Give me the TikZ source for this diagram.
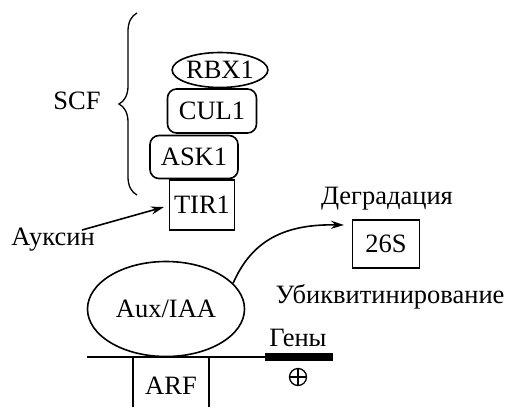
\documentclass[tikz,border=0pt]{standalone}
\usepackage{fontspec}
\setmainfont{Liberation Serif}
\usetikzlibrary{arrows.meta,decorations.pathreplacing,shapes.geometric}
\begin{document}
\begin{tikzpicture}[x=1pt,y=-1pt,line width=1.6pt,
  every node/.style={font=\fontsize{26.5}{30}\selectfont,inner sep=0pt},
  rbox/.style={draw,rounded corners=9pt,minimum width=88pt,minimum height=43pt},
  sbox/.style={draw,minimum width=65pt,minimum height=50pt},
  oval/.style={draw,ellipse},
  arr/.style={-{Stealth[length=13pt,width=8pt]}}]
\useasboundingbox (0,0) rectangle (505,407);
\node[oval,minimum width=86pt,minimum height=35pt] (rbx) at (220,70) {RBX1};
\node[rbox,minimum width=89pt,minimum height=44pt] (cul) at (212,111) {CUL1};
\node[rbox] (ask) at (194,157) {ASK1};
\node[sbox] (tir) at (202,205) {TIR1};
\draw[line width=1.3pt,decorate,decoration={brace,amplitude=18pt}] (137,195) -- (137,13);
\node (scf) at (77,101) {SCF};
\node (aux) at (53,240) {Ауксин};
\coordinate (auxs) at (82,230);
\coordinate (tirin) at (164,207);
\draw[arr] (auxs) -- (tirin);
\node[oval,minimum width=157pt,minimum height=95pt] (iaa) at (166,309) {Aux/IAA};
\node[sbox,minimum width=67pt,minimum height=48pt] (p26) at (386,244) {26S};
\node (deg) at (387,199) {Деградация};
\node (ubi) at (390,297) {Убиквитинирование};
\coordinate (tipA) at (344,225);
\draw[arr] (iaa.21) .. controls (252,240) and (285,224) .. (tipA);
\coordinate (linel) at (87,357);
\coordinate (liner) at (265,357);
\coordinate (barr) at (333,357);
\draw (linel) -- (liner);
\draw[line width=8pt] (liner) -- (barr);
\coordinate (arfl) at (133,357);
\coordinate (arfr) at (209,357);
\draw (arfl) -- (133,407) (arfr) -- (209,407);
\node (arf) at (171,386) {ARF};
\node (gen) at (298,338) {Гены};
\node[draw,circle,minimum size=17pt,line width=1.3pt] (plus) at (298,377) {};
\draw[line width=1.3pt] (plus.north) -- (plus.south) (plus.west) -- (plus.east);
\end{tikzpicture}
\end{document}
